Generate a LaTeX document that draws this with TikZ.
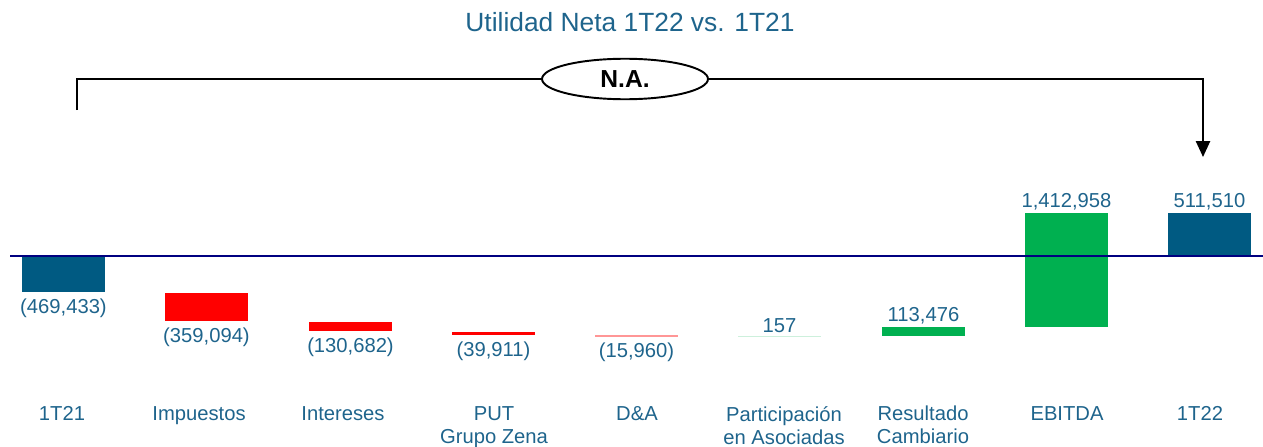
\documentclass[tikz,border=0pt]{standalone}
\usepackage{fontspec}
\setmainfont{Liberation Sans}
\usetikzlibrary{positioning,shapes.geometric,arrows.meta}

\definecolor{netblue}{RGB}{0,90,130}
\definecolor{txtblue}{RGB}{30,100,140}
\definecolor{axisblue}{RGB}{0,0,128}
\definecolor{posgreen}{RGB}{0,176,80}
\definecolor{paleblue}{RGB}{205,240,220}
\definecolor{palered}{RGB}{255,150,150}

\tikzset{
	bar/.style={rectangle, draw=none, inner sep=0pt, outer sep=0pt, minimum width=1.66cm, anchor=north west},
	val/.style={text=txtblue, font=\fontsize{11.5}{13}\selectfont, inner sep=1pt},
	cat/.style={text=txtblue, font=\fontsize{11.5}{13}\selectfont, align=center, anchor=north, inner sep=0pt}
}

\begin{document}
\begin{tikzpicture}[x=0.02cm, y=-0.02cm]
		\useasboundingbox (0,0) rectangle (1263,446);
		\node[text=txtblue, font=\fontsize{15}{17}\selectfont] (title) at (630,22) {Utilidad Neta 1T22 vs. 1T21};
		% bracket
		\node[ellipse, draw, line width=1.1pt, fill=white, minimum width=3.32cm, minimum height=0.8cm, font=\bfseries\fontsize{14}{16}\selectfont] (na) at (625,79) {N.A.};
		\coordinate (lstart) at (77,110);
		\coordinate (rend) at (1203,157);
		\draw[line width=1.1pt] (lstart) |- (na.west);
		\draw[line width=1.1pt, -{Triangle[length=9pt,width=8pt]}] (na.east) -| (rend);
		% bars
		\node[bar, fill=netblue, minimum height=0.72cm] (b1) at (22,256) {};
		\node[bar, fill=red, minimum height=0.56cm] (b2) at (165,293) {};
		\node[bar, fill=red, minimum height=0.18cm] (b3) at (309,322) {};
		\node[bar, fill=red, minimum height=0.06cm] (b4) at (452,332) {};
		\node[bar, fill=palered, minimum height=0.03cm] (b5) at (595,335) {};
		\node[bar, fill=paleblue, minimum height=0.03cm] (b6) at (738,335.5) {};
		\node[bar, fill=posgreen, minimum height=0.18cm] (b7) at (882,327) {};
		\node[bar, fill=posgreen, minimum height=2.28cm] (b8) at (1025,213) {};
		\node[bar, fill=netblue, minimum height=0.86cm] (b9) at (1168,213) {};
		% axis
		\coordinate (axl) at (10,256);
		\coordinate (axr) at (1263,256);
		\draw[axisblue, line width=1.5pt] (axl) -- (axr);
		% values
		\node[val, below=2.5pt of b1] (v1) {(469,433)};
		\node[val, below=2.5pt of b2] (v2) {(359,094)};
		\node[val, below=2.5pt of b3] (v3) {(130,682)};
		\node[val, below=2.5pt of b4] (v4) {(39,911)};
		\node[val, below=2.5pt of b5] (v5) {(15,960)};
		\node[val, above=0.5pt of b6] (v6) {157};
		\node[val, above=0.5pt of b7] (v7) {113,476};
		\node[val, above=0.5pt of b8] (v8) {1,412,958};
		\node[val, above=0.5pt of b9] (v9) {511,510};
		% categories
		\node[cat] (c1) at (62,406) {1T21};
		\node[cat] (c2) at (199,406) {Impuestos};
		\node[cat] (c3) at (343,406) {Intereses};
		\node[cat] (c4) at (494,406) {PUT\\Grupo Zena};
		\node[cat] (c5) at (637,406) {D\&A};
		\node[cat] (c6) at (784,406) {Participación\\en Asociadas};
		\node[cat] (c7) at (923,406) {Resultado\\Cambiario};
		\node[cat] (c8) at (1067,406) {EBITDA};
		\node[cat] (c9) at (1200,406) {1T22};
\end{tikzpicture}
\end{document}
